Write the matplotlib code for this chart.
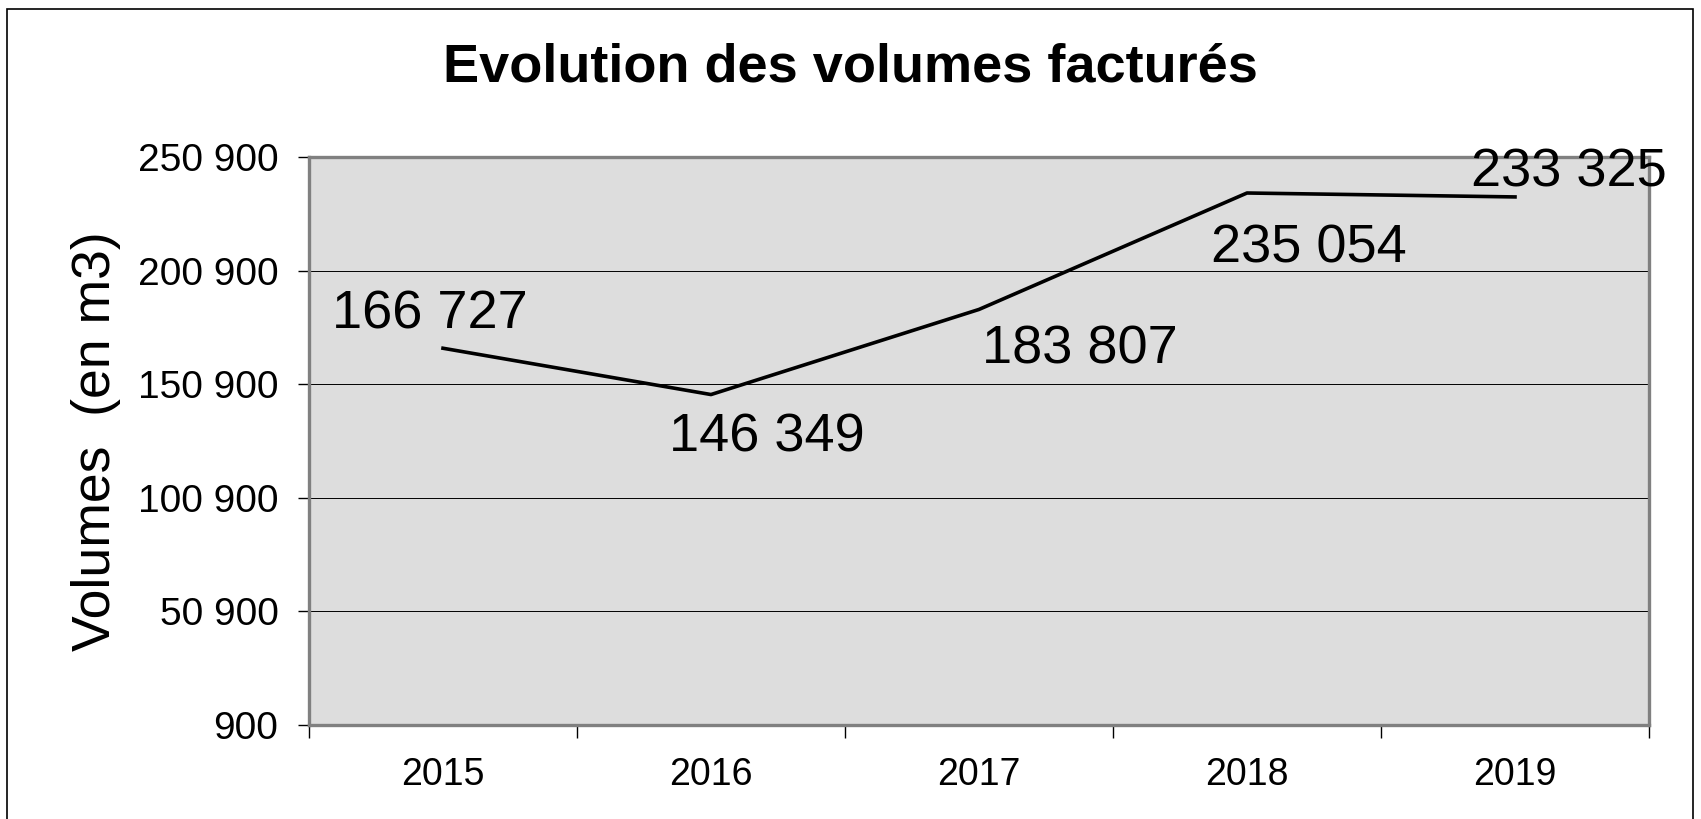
import matplotlib.pyplot as plt
from matplotlib.patches import Rectangle
from matplotlib.ticker import FuncFormatter, FixedLocator

plt.rcParams['font.family'] = ['Liberation Sans', 'DejaVu Sans']

# données
annees = ["2015", "2016", "2017", "2018", "2019"]
volumes = [166727, 146349, 183807, 235054, 233325]
y_ticks = [900, 50900, 100900, 150900, 200900, 250900]

# décalage des étiquettes (pixels)
decalages = [(-13, 34), (56, -43), (101, -40), (62, -55), (54, 24)]


def fmt(v, pos=None):
    return f"{int(v):,}".replace(",", " ")


fig = plt.figure(figsize=(17.01, 8.19), dpi=100)
fig.patch.set_facecolor("white")

# cadre autour du graphique
fig.patches.append(Rectangle((7 / 1701, -0.01), 1686 / 1701, 1.0 - 9 / 819 + 0.01,
                             transform=fig.transFigure, fill=False,
                             edgecolor="black", linewidth=1.2))

ax = fig.add_axes([309 / 1701, 1 - 725 / 819, 1340 / 1701, 568 / 819])
ax.set_facecolor("#DDDDDD")

x = list(range(len(annees)))
ax.plot(x, volumes, color="black", linewidth=2.6, zorder=3)

for xi, v, (dx, dy) in zip(x, volumes, decalages):
    ax.annotate(fmt(v), (xi, v), xytext=(dx, dy), textcoords="offset pixels",
                ha="center", va="center", fontsize=39, zorder=4,
                annotation_clip=False)

ax.set_xlim(-0.5, len(annees) - 0.5)
ax.set_ylim(y_ticks[0], y_ticks[-1])

ax.set_yticks(y_ticks)
ax.yaxis.set_major_formatter(FuncFormatter(fmt))
ax.yaxis.grid(True, color="black", linewidth=0.7)
ax.set_axisbelow(True)

# ticks entre les catégories, étiquettes au centre
ax.xaxis.set_major_locator(FixedLocator([i - 0.5 for i in range(len(annees) + 1)]))
ax.xaxis.set_major_formatter(FuncFormatter(lambda v, p: ""))
ax.xaxis.set_minor_locator(FixedLocator(x))
ax.set_xticklabels(annees, minor=True)
ax.tick_params(axis="x", which="major", length=9, width=1, color="black", direction="out")
ax.tick_params(axis="x", which="minor", length=0, pad=23, labelsize=27)
ax.tick_params(axis="y", length=8, width=1, color="black", pad=14, labelsize=28)

for s in ax.spines.values():
    s.set_color("#808080")
    s.set_linewidth(2.4)

ax.set_ylabel("Volumes  (en m3)", fontsize=38.5)
ax.yaxis.set_label_coords(-0.14, 0.5)

fig.text(0.5, 0.918, "Evolution des volumes facturés", ha="center", va="center",
         fontsize=39, fontweight="bold")

fig.savefig("out.png", dpi=100)
